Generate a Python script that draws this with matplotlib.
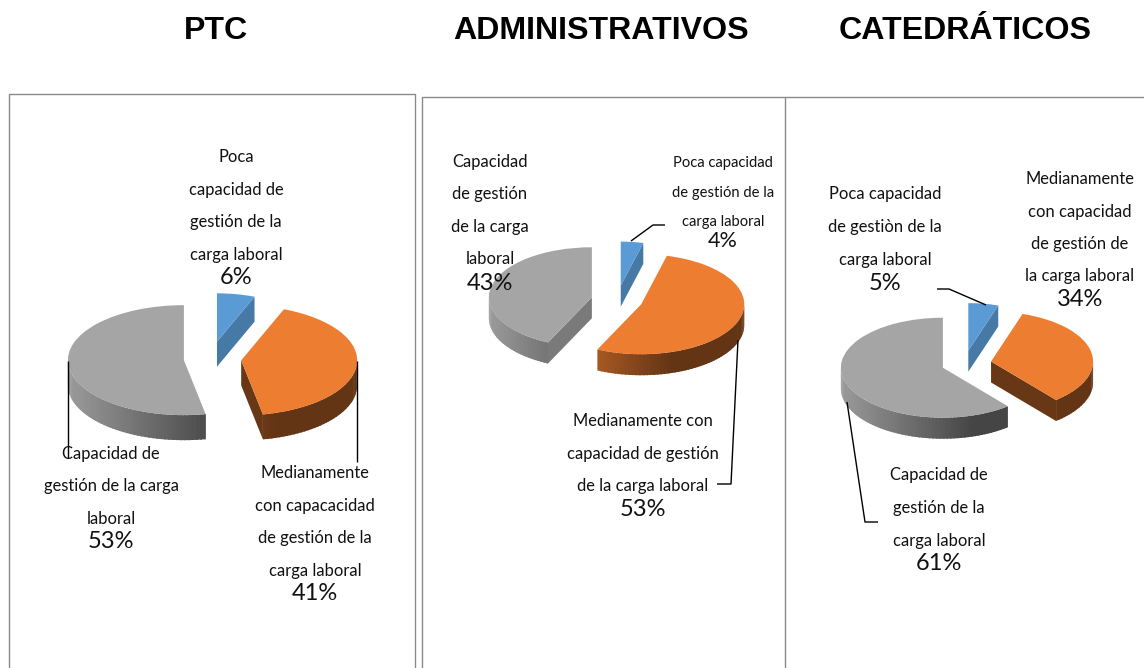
import numpy as np
import matplotlib
matplotlib.use("Agg")
import matplotlib.pyplot as plt
from matplotlib.colors import to_rgb
from matplotlib.patches import Polygon

# ===== Data ==================================================================
titles = ["PTC", "ADMINISTRATIVOS", "CATEDRÁTICOS"]

ptc_values = [6, 41, 53]
adm_values = [4, 53, 43]
cat_values = [5, 34, 61]

ptc_labels = ["Poca\ncapacidad de\ngestión de la\ncarga laboral",
              "Medianamente\ncon capacacidad\nde gestión de la\ncarga laboral",
              "Capacidad de\ngestión de la carga\nlaboral"]
adm_labels = ["Poca capacidad\nde gestión de la\ncarga laboral",
              "Medianamente con\ncapacidad de gestión\nde la carga laboral",
              "Capacidad\nde gestión\nde la carga\nlaboral"]
cat_labels = ["Poca capacidad\nde gestiòn de la\ncarga laboral",
              "Medianamente\ncon capacidad\nde gestión de\nla carga laboral",
              "Capacidad de\ngestión de la\ncarga laboral"]

colors = ["#5B9BD5", "#ED7D31", "#A5A5A5"]

# ===== Layout (pixels) =======================================================
W, H = 1144, 668
FRAME = "#8a8a8a"
LABEL_FONT = "Lato"

# center x, center y, rx, ry, depth, explode per slice, blue slice radius
pie_layout = [
    (210, 359, 116, 55, 25, (0.32, 0.27, 0.226), 0.88),
    (617, 300, 103, 50, 21, (0.29, 0.25, 0.25), 0.88),
    (964, 364, 102, 50, 21, (0.27, 0.27, 0.22), 0.95),
]

# text center x, first line y, percent y, font size, percent size
label_layout = [
    [(236, 157, 278, 11.9, 17), (315, 473, 593, 11.9, 17), (111, 454, 542, 11.9, 17)],
    [(723, 163, 241, 10.6, 15.5), (643, 421, 509, 11.9, 17), (490, 162, 283, 11.9, 17)],
    [(885, 194, 283, 11.9, 17), (1080, 179, 299, 11.9, 17), (939, 475, 563, 11.9, 17)],
]
line_pitch = [[32.6, 32.6, 32.5], [29.5, 32.5, 32.5], [33, 32.5, 33]]

title_x = [216, 601, 965]
leaders = [
    [(68, 361), (68, 458)],
    [(357, 361), (357, 462)],
    [(631, 241), (653, 225), (665, 225)],
    [(738, 340), (731, 484), (717, 484)],
    [(986, 305), (949, 289), (937, 289)],
    [(847, 402), (865, 522), (878, 522)],
]
frames = [
    [(9, 668), (9, 94), (415, 94), (415, 668)],
    [(422, 668), (422, 97), (785, 97), (785, 668)],
    [(785, 97), (1144, 97)],
]


def shade(color, factor):
    return tuple(min(1.0, c * factor) for c in to_rgb(color))


def side_factor(color_index, x):
    # light falls from the left, the blue slice stays flat
    if color_index == 0:
        return 0.78
    return 0.42 + 0.4 * max(0.0, 0.3 - x)


def draw_side(ax, wedge, idx, depth):
    cx, cy = wedge.center
    r = wedge.r
    t1, t2 = wedge.theta1, wedge.theta2
    zo = wedge.get_zorder() - 0.5
    cut = [0.78, 0.44, 0.74][idx]

    # cut faces, only those that look towards the viewer
    for ang, normal in ((t1, t1 - 90), (t2, t2 + 90)):
        if np.sin(np.radians(normal)) < -1e-6:
            x = cx + r * np.cos(np.radians(ang))
            y = cy + r * np.sin(np.radians(ang))
            quad = [(cx, cy), (x, y), (x, y - depth), (cx, cy - depth)]
            ax.add_patch(Polygon(quad, fc=shade(colors[idx], cut), lw=0, zorder=zo))

    # outer rim, front half only. Each piece runs on under the next one, so no seams
    steps = np.arange(t1, t2 + 2, 2.0)
    steps[-1] = t2
    for a0, a1 in zip(steps[:-1], steps[1:]):
        if np.sin(np.radians((a0 + a1) / 2)) >= 0:
            continue
        a2 = min(a1 + 1.0, t2)
        x0, y0 = r * np.cos(np.radians(a0)), r * np.sin(np.radians(a0))
        x1, y1 = r * np.cos(np.radians(a2)), r * np.sin(np.radians(a2))
        c = shade(colors[idx], side_factor(idx, (x0 + x1) / 2 / r))
        quad = [(cx + x0, cy + y0), (cx + x1, cy + y1),
                (cx + x1, cy + y1 - depth), (cx + x0, cy + y0 - depth)]
        ax.add_patch(Polygon(quad, fc=c, lw=0, zorder=zo))


fig = plt.figure(figsize=(W / 100, H / 100), dpi=100, facecolor="white")

# ===== Pies ==================================================================
all_values = [ptc_values, adm_values, cat_values]
SPAN = 1.9
for values, (cx, cy, rx, ry, depth, explode, blue_r) in zip(all_values, pie_layout):
    pos = [(cx - SPAN * rx) / W, 1 - (cy + SPAN * ry) / H,
           2 * SPAN * rx / W, 2 * SPAN * ry / H]
    ax = fig.add_axes(pos)
    wedges, _ = ax.pie(values, colors=colors, explode=explode, startangle=90,
                       counterclock=False, radius=1,
                       wedgeprops={"linewidth": 0})
    wedges[0].set_radius(blue_r)
    ax.set_aspect("auto")
    ax.set_xlim(-SPAN, SPAN)
    ax.set_ylim(-SPAN, SPAN)
    ax.patch.set_alpha(0)
    ax.axis("off")
    # back slice first, the orange one sits in front
    for idx, zo in zip(range(3), (2, 4, 3)):
        wedges[idx].set_zorder(zo)
        draw_side(ax, wedges[idx], idx, depth / ry)

# ===== Frames, leaders and text ==============================================
over = fig.add_axes([0, 0, 1, 1], zorder=10)
over.set_xlim(0, W)
over.set_ylim(H, 0)
over.axis("off")
over.patch.set_alpha(0)

for pts in frames:
    xs, ys = zip(*pts)
    over.plot(xs, ys, color=FRAME, lw=1.0, solid_capstyle="butt")
for pts in leaders:
    xs, ys = zip(*pts)
    over.plot(xs, ys, color="black", lw=1.0, solid_capstyle="butt")

for title, x in zip(titles, title_x):
    over.text(x, 31, title, family="Liberation Sans", weight="bold", fontsize=23.1,
              ha="center", va="center", color="black")

all_labels = [ptc_labels, adm_labels, cat_labels]
for values, labels, layout, pitches in zip(all_values, all_labels, label_layout, line_pitch):
    for val, lab, (x, y0, yp, fs, fsp), pitch in zip(values, labels, layout, pitches):
        for i, line in enumerate(lab.split("\n")):
            over.text(x, y0 + i * pitch, line, family=LABEL_FONT, fontsize=fs,
                      ha="center", va="center", color="#111111")
        over.text(x, yp, f"{val}%", family=LABEL_FONT, fontsize=fsp,
                  ha="center", va="center", color="#111111")

fig.savefig("out.png", dpi=100)
